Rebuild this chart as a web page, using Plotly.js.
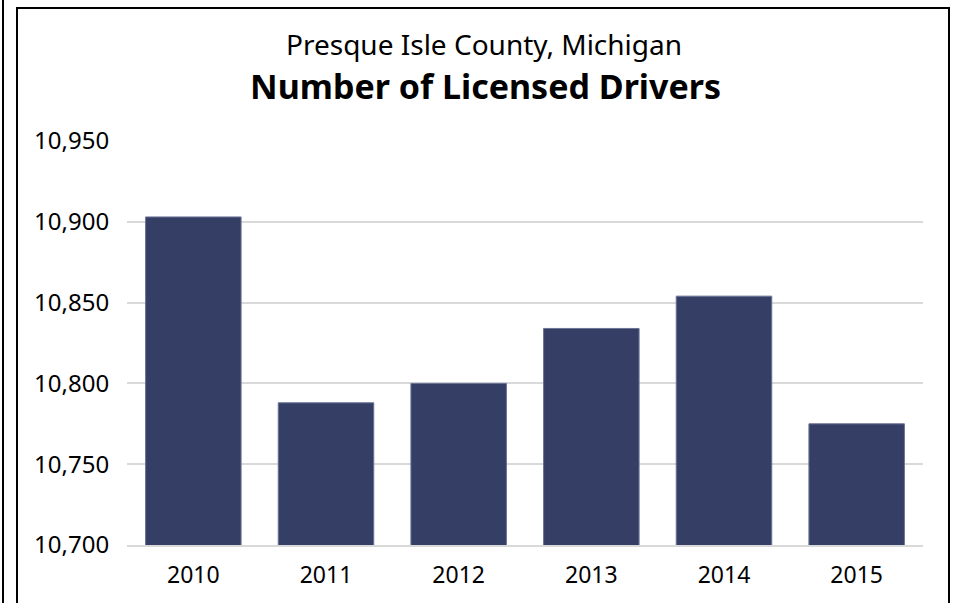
<!DOCTYPE html>
<html>
<head>
<meta charset="utf-8">
<script src="https://cdn.plot.ly/plotly-3.0.1.min.js"></script>
<style>
html,body{margin:0;padding:0;background:#fff;}
#wrap{position:relative;width:956px;height:603px;overflow:hidden;}
#chart{position:absolute;left:0;top:0;width:956px;height:603px;}
#frame{position:absolute;left:16px;top:7px;width:934px;height:620px;border:2px solid #000;box-sizing:border-box;pointer-events:none;}
#edge{position:absolute;left:2px;top:0;width:2px;height:603px;background:#000;pointer-events:none;}
</style>
</head>
<body>
<div id="wrap">
<div id="chart"></div>
<div id="frame"></div>
<div id="edge"></div>
</div>
<script>
const years = ['2010','2011','2012','2013','2014','2015'];
const drivers = [10903, 10788, 10800, 10834, 10854, 10775];
const yTicks = [10700, 10750, 10800, 10850, 10900, 10950];
const yTickLabels = ['10,700','10,750','10,800','10,850','10,900','10,950'];
const titleLine1 = 'Presque Isle County, Michigan';
const titleLine2 = 'Number of Licensed Drivers';

const FONT = '"Noto Sans", "Open Sans", sans-serif';

const trace = {
  type: 'bar',
  x: years,
  y: drivers,
  marker: {color: '#353F66', line: {color: '#6b7396', width: 1}},
  hoverinfo: 'x+y'
};

const layout = {
  width: 956,
  height: 603,
  margin: {l: 127, r: 33, t: 141, b: 58},
  paper_bgcolor: '#fff',
  plot_bgcolor: '#fff',
  font: {family: FONT, color: '#000'},
  bargap: 0.28,
  showlegend: false,
  annotations: [
    {text: titleLine1, xref: 'paper', yref: 'paper', x: 0.448, y: 1.2401,
     xanchor: 'center', yanchor: 'middle', showarrow: false,
     font: {size: 28, color: '#000', family: FONT}},
    {text: '<b>' + titleLine2 + '</b>', xref: 'paper', yref: 'paper', x: 0.451, y: 1.1361,
     xanchor: 'center', yanchor: 'middle', showarrow: false,
     font: {size: 34, color: '#000', family: FONT}}
  ],
  xaxis: {
    type: 'category',
    tickfont: {size: 23, color: '#000'},
    showline: true, linecolor: '#d9d9d9', linewidth: 2,
    ticks: 'outside', ticklen: 8, tickcolor: 'rgba(0,0,0,0)',
    showgrid: false, fixedrange: true
  },
  yaxis: {
    range: [10700, 10950],
    tickvals: yTicks,
    ticktext: yTickLabels,
    tickfont: {size: 24, color: '#000'},
    showgrid: true, gridcolor: '#d9d9d9', gridwidth: 2,
    zeroline: false, showline: false,
    ticks: 'outside', ticklen: 12, tickcolor: 'rgba(0,0,0,0)',
    fixedrange: true
  }
};

Plotly.newPlot('chart', [trace], layout, {displayModeBar: false, staticPlot: true});
</script>
</body>
</html>
